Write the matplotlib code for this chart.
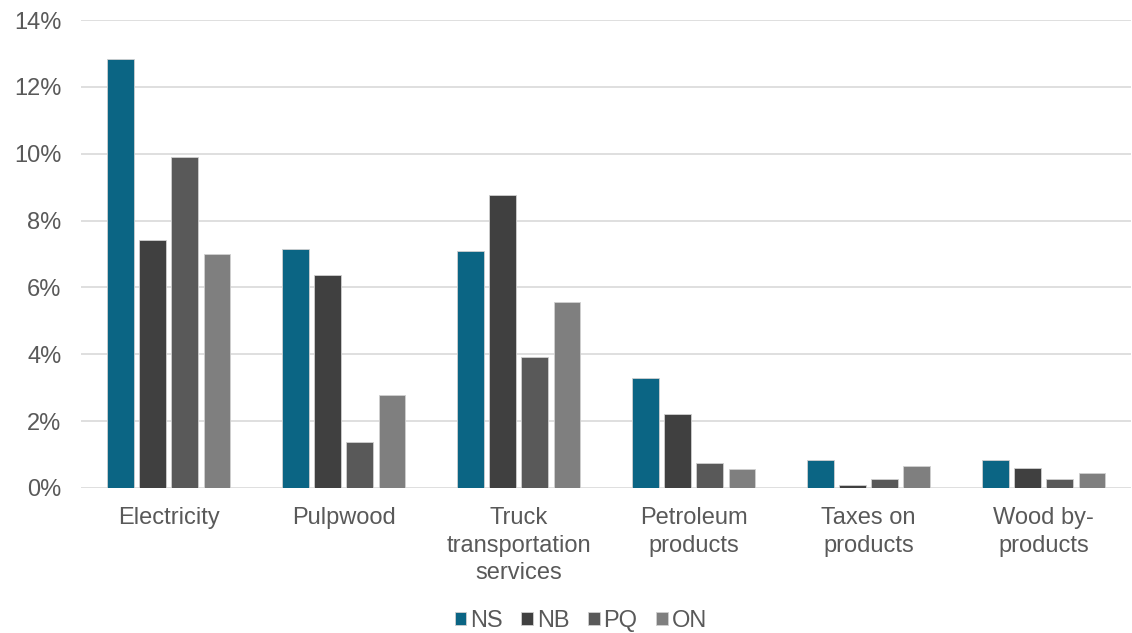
import numpy as np
import matplotlib.pyplot as plt
from matplotlib.ticker import FuncFormatter

plt.rcParams["font.family"] = ["Liberation Sans", "DejaVu Sans"]

categories = ["Electricity", "Pulpwood", "Truck\ntransportation\nservices",
              "Petroleum\nproducts", "Taxes on\nproducts", "Wood by-\nproducts"]
series = ["NS", "NB", "PQ", "ON"]
ns = [12.83, 7.15, 7.09, 3.29, 0.84, 0.84]
nb = [7.42, 6.37, 8.76, 2.21, 0.10, 0.60]
pq = [9.90, 1.38, 3.92, 0.75, 0.27, 0.27]
on = [7.00, 2.78, 5.56, 0.57, 0.66, 0.45]
colors = ["#0B6584", "#404040", "#595959", "#7F7F7F"]

fig = plt.figure(figsize=(11.32, 6.33), dpi=100)
ax = fig.add_axes([81 / 1132, 1 - 488 / 633, 1050 / 1132, 468 / 633])

x = np.arange(len(categories))
pitch = 0.183
width = 0.149
for i, (name, vals) in enumerate(zip(series, [ns, nb, pq, on])):
    ax.bar(x + (i - 1.5) * pitch, vals, width, color=colors[i], label=name,
           edgecolor="#D0D0D0", linewidth=0.6, zorder=3)

ax.set_xlim(-0.5, len(categories) - 0.5)
ax.set_ylim(0, 14)
ax.set_yticks(range(0, 15, 2))
ax.yaxis.set_major_formatter(FuncFormatter(lambda v, p: f"{v:.0f}%"))
ax.grid(axis="y", color="#D9D9D9", linewidth=1.2, zorder=0)
for s in ax.spines.values():
    s.set_visible(False)
ax.tick_params(axis="y", length=0, pad=14, labelsize=17, labelcolor="#595959")
ax.set_xticks(x)
ax.set_xticklabels(categories, fontsize=17, color="#595959", linespacing=1.3)
ax.tick_params(axis="x", length=0, pad=14)

ax.legend(loc="upper center", bbox_to_anchor=(0.476, -0.225), ncol=4, frameon=False,
          fontsize=17, labelcolor="#595959", handlelength=0.5, handleheight=0.5,
          handletextpad=0.15, columnspacing=0.8, borderpad=0.2)

fig.savefig("out.png", dpi=100)
